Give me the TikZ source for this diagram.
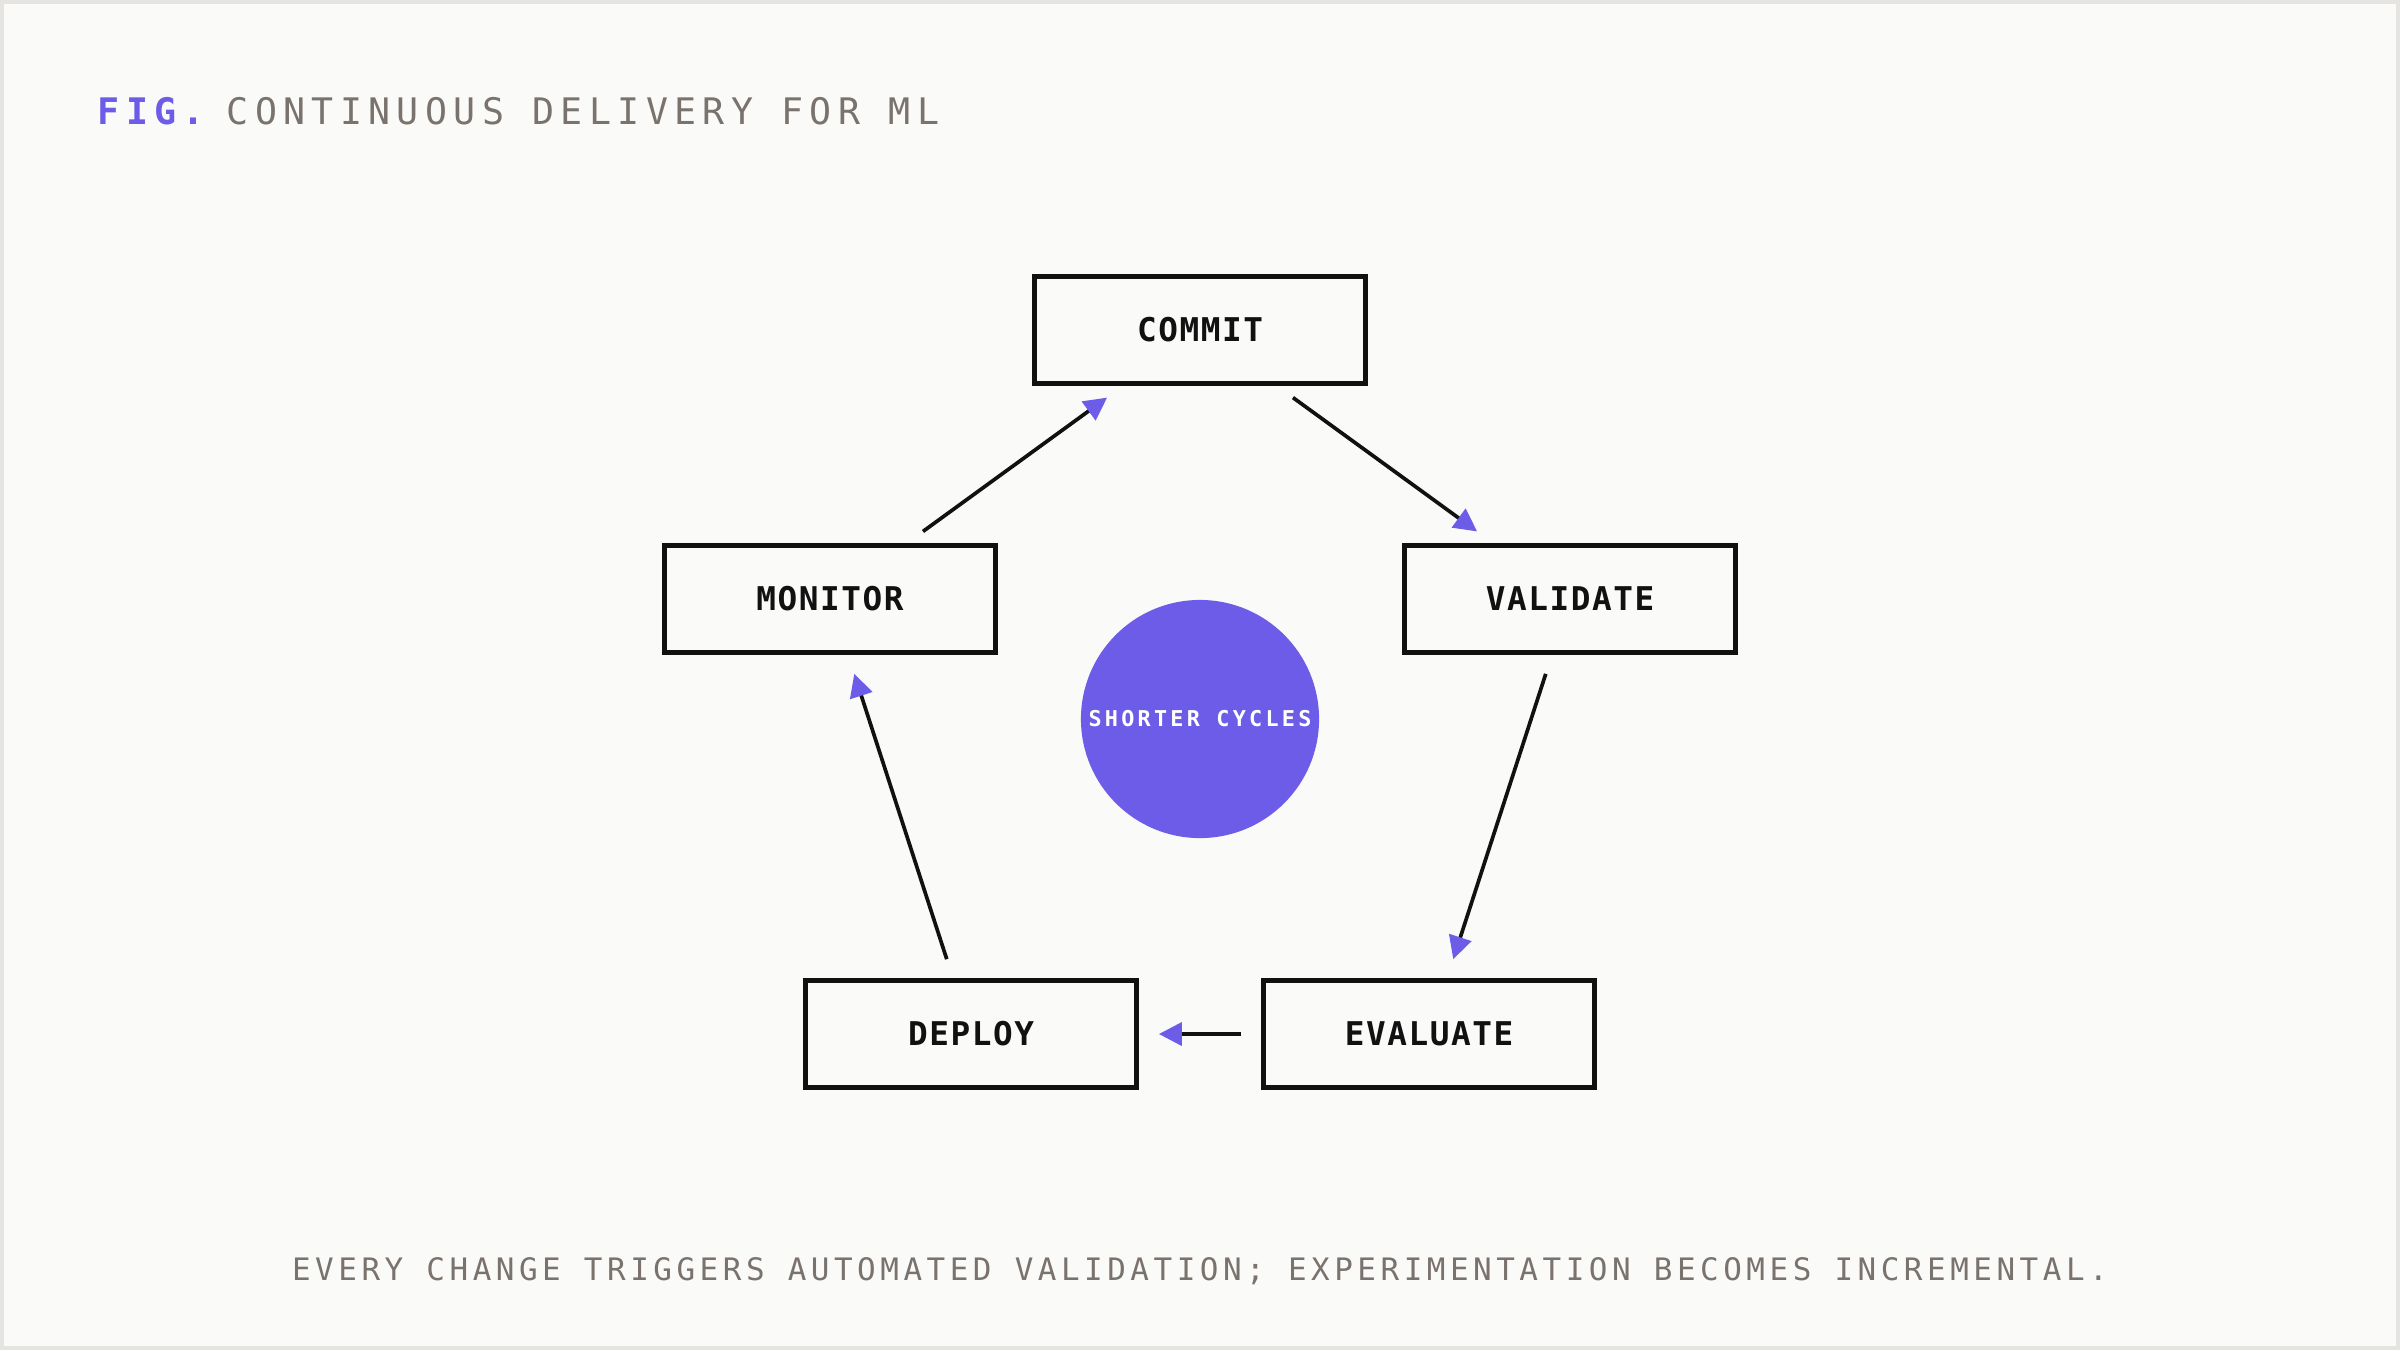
\documentclass[tikz,border=0pt]{standalone}
\usepackage{fontspec}
\usepackage{tikz}
\usetikzlibrary{arrows.meta,positioning}
\newfontfamily\titlefont[LetterSpace=17.4]{DejaVu Sans Mono}
\newfontfamily\notefont[LetterSpace=14.6]{DejaVu Sans Mono}
\newfontfamily\stagefont[LetterSpace=4.8]{DejaVu Sans Mono}
\newfontfamily\hubfont[LetterSpace=15]{DejaVu Sans Mono}
\definecolor{paper}{HTML}{FAFAF8}
\definecolor{frame}{HTML}{E5E4E1}
\definecolor{ink}{HTML}{111111}
\definecolor{muted}{HTML}{7A736D}
\definecolor{accent}{HTML}{6C5CE7}

\begin{document}
\begin{tikzpicture}[x=0.01cm, y=-0.01cm,
  stage/.style={draw=ink, line width=1.3pt, fill=paper, text=ink, inner sep=0pt,
                minimum width=3.31cm, minimum height=1.07cm,
                font=\stagefont\bfseries\fontsize{9.3pt}{11pt}\selectfont},
  hub/.style={circle, fill=accent, text=white, inner sep=0pt, minimum size=2.38cm,
              font=\hubfont\bfseries\fontsize{6.2pt}{7pt}\selectfont},
  heading/.style={anchor=base west, inner sep=0pt, font=\titlefont\fontsize{10.4pt}{12pt}\selectfont},
  arrow/.style={-{Triangle[length=6.5pt, width=6.5pt, color=accent]}, line width=1.05pt,
                draw=ink, shorten >=0.2cm, shorten <=0.2cm}]
  \useasboundingbox (0,0) rectangle (2400,1350);
  \fill[paper] (0,0) rectangle (2400,1350);
  \draw[frame, line width=0.04cm] (2,2) rectangle (2398,1348);
  \node[heading, text=accent, font=\titlefont\bfseries\fontsize{10.4pt}{12pt}\selectfont] (fig) at (97,124) {FIG.};
  \node[heading, text=muted] (title) at (226,124) {CONTINUOUS DELIVERY FOR ML};
  \node[hub] (cycles) at (1200,719) {SHORTER CYCLES};
  \node[stage] (commit) at (1200,330) {COMMIT};
  \node[stage] (validate) at (1570,599) {VALIDATE};
  \node[stage] (evaluate) at (1429,1034) {EVALUATE};
  \node[stage] (deploy) at (971,1034) {DEPLOY};
  \node[stage] (monitor) at (830,599) {MONITOR};
  \draw[arrow] (commit) -- (validate);
  \draw[arrow] (validate) -- (evaluate);
  \draw[arrow] (evaluate) -- (deploy);
  \draw[arrow] (deploy) -- (monitor);
  \draw[arrow] (monitor) -- (commit);
  \node[anchor=base, inner sep=0pt, text=muted, font=\notefont\fontsize{8.8pt}{10pt}\selectfont] (caption) at (1200,1280)
    {EVERY CHANGE TRIGGERS AUTOMATED VALIDATION; EXPERIMENTATION BECOMES INCREMENTAL.};
\end{tikzpicture}
\end{document}
